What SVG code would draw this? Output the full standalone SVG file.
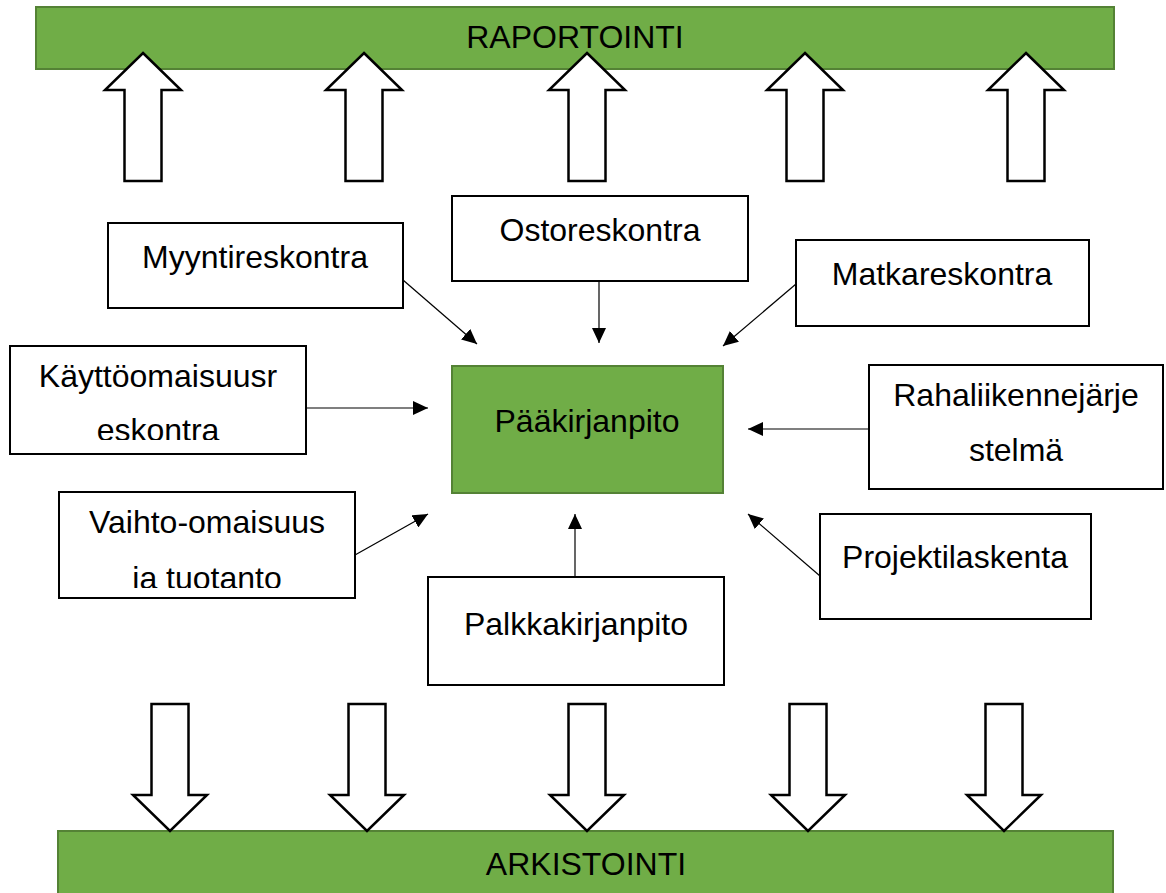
<svg xmlns="http://www.w3.org/2000/svg" width="1166" height="893" viewBox="0 0 1166 893">
<style>
.bar{fill:#70AD47;stroke:#548235;stroke-width:2}
.box{fill:#fff;stroke:#000;stroke-width:2}
.blk{fill:#fff;stroke:#000;stroke-width:2.5;stroke-linejoin:miter}
.t{font-family:"Liberation Sans",Arial,sans-serif;font-size:32px;fill:#000;text-anchor:middle}
.c{stroke:#000;stroke-width:1.2;fill:none;marker-end:url(#ah)}
</style>
<defs>
<marker id="ah" viewBox="0 0 15 14" refX="15" refY="7" markerWidth="15" markerHeight="14" orient="auto" markerUnits="userSpaceOnUse"><path d="M0,0 L15,7 L0,14 Z" fill="#000"/></marker>
<clipPath id="clipK"><rect x="10" y="346" width="296" height="94"/></clipPath>
<clipPath id="clipV"><rect x="59" y="492" width="296" height="96"/></clipPath>
</defs>
<rect width="1166" height="893" fill="#fff"/>
<g id="raportointi"><rect class="bar" x="36" y="7" width="1078" height="62"/><text class="t" x="575" y="48">RAPORTOINTI</text></g>
<g id="arkistointi"><rect class="bar" x="58" y="831" width="1055" height="70"/><text class="t" x="586" y="875">ARKISTOINTI</text></g>
<g id="up-arrows">
<path class="blk" d="M143,53 L181,90 L161.5,90 L161.5,181 L124.5,181 L124.5,90 L105,90 Z"/>
<path class="blk" d="M364,53 L402,90 L382.5,90 L382.5,181 L345.5,181 L345.5,90 L326,90 Z"/>
<path class="blk" d="M587,53 L625,90 L605.5,90 L605.5,181 L568.5,181 L568.5,90 L549,90 Z"/>
<path class="blk" d="M805,53 L843,90 L823.5,90 L823.5,181 L786.5,181 L786.5,90 L767,90 Z"/>
<path class="blk" d="M1026,53 L1064,90 L1044.5,90 L1044.5,181 L1007.5,181 L1007.5,90 L988,90 Z"/>
</g>
<g id="down-arrows">
<path class="blk" d="M151.5,704 L188.5,704 L188.5,795 L207,795 L170,831 L133,795 L151.5,795 Z"/>
<path class="blk" d="M348.5,704 L385.5,704 L385.5,795 L404,795 L367,831 L330,795 L348.5,795 Z"/>
<path class="blk" d="M568.5,704 L605.5,704 L605.5,795 L624,795 L587,831 L550,795 L568.5,795 Z"/>
<path class="blk" d="M789.5,704 L826.5,704 L826.5,795 L845,795 L808,831 L771,795 L789.5,795 Z"/>
<path class="blk" d="M985.5,704 L1022.5,704 L1022.5,795 L1041,795 L1004,831 L967,795 L985.5,795 Z"/>
</g>
<g id="paakirjanpito"><rect x="452" y="366" width="271" height="127" fill="#70AD47" stroke="#548235" stroke-width="2"/><text class="t" x="587" y="432">Pääkirjanpito</text></g>
<g id="myyntireskontra"><rect class="box" x="108" y="223" width="295" height="85"/><text class="t" x="255" y="268">Myyntireskontra</text></g>
<g id="ostoreskontra"><rect class="box" x="452" y="196" width="296" height="85"/><text class="t" x="600" y="241">Ostoreskontra</text></g>
<g id="matkareskontra"><rect class="box" x="796" y="240" width="293" height="86"/><text class="t" x="942" y="285">Matkareskontra</text></g>
<g id="kayttoomaisuusreskontra"><rect class="box" x="10" y="346" width="296" height="108"/><text class="t" x="158" y="387">Käyttöomaisuusr</text><text class="t" x="158" y="441" clip-path="url(#clipK)">eskontra</text></g>
<g id="rahaliikennejarjestelma"><rect class="box" x="869" y="365" width="294" height="124"/><text class="t" x="1016" y="406">Rahaliikennejärje</text><text class="t" x="1016" y="461">stelmä</text></g>
<g id="vaihto-omaisuus"><rect class="box" x="59" y="492" width="296" height="106"/><text class="t" x="207" y="533">Vaihto-omaisuus</text><text class="t" x="207" y="589" clip-path="url(#clipV)">ia tuotanto</text></g>
<g id="projektilaskenta"><rect class="box" x="820" y="514" width="271" height="105"/><text class="t" x="955" y="568">Projektilaskenta</text></g>
<g id="palkkakirjanpito"><rect class="box" x="428" y="577" width="296" height="108"/><text class="t" x="576" y="635">Palkkakirjanpito</text></g>
<g id="connectors">
<line class="c" x1="403" y1="280" x2="477" y2="344"/>
<line class="c" x1="599" y1="281" x2="599" y2="343"/>
<line class="c" x1="796" y1="284" x2="723" y2="346"/>
<line class="c" x1="306" y1="408" x2="428" y2="408"/>
<line class="c" x1="869" y1="429" x2="748" y2="429"/>
<line class="c" x1="355" y1="555" x2="428" y2="514"/>
<line class="c" x1="575" y1="577" x2="575" y2="514"/>
<line class="c" x1="820" y1="576" x2="748" y2="514"/>
</g>
</svg>
